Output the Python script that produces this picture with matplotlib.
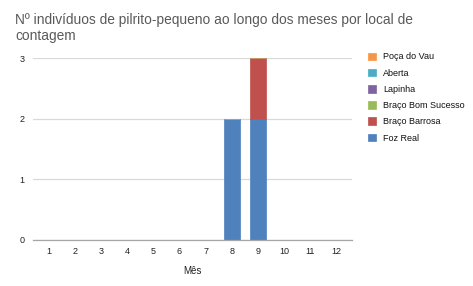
import numpy as np
import matplotlib.pyplot as plt

plt.rcParams['font.family'] = ['Liberation Sans', 'DejaVu Sans']

# Data
months = [1, 2, 3, 4, 5, 6, 7, 8, 9, 10, 11, 12]
foz_real = [0, 0, 0, 0, 0, 0, 0, 2, 2, 0, 0, 0]
braco_barrosa = [0, 0, 0, 0, 0, 0, 0, 0, 1, 0, 0, 0]
braco_bom_sucesso = [0] * 12
lapinha = [0] * 12
aberta = [0] * 12
poca_do_vau = [0] * 12

series = [
    ('Foz Real', foz_real, '#4F81BD'),
    ('Braço Barrosa', braco_barrosa, '#C0504D'),
    ('Braço Bom Sucesso', braco_bom_sucesso, '#9BBB59'),
    ('Lapinha', lapinha, '#8064A2'),
    ('Aberta', aberta, '#4BACC6'),
    ('Poça do Vau', poca_do_vau, '#F79646'),
]

fig = plt.figure(figsize=(4.73, 2.86), dpi=100)
ax = fig.add_axes([0.070, 0.161, 0.674, 0.636])

x = np.array(months)
bottom = np.zeros(len(months))
for name, vals, col in series:
    vals = np.array(vals, dtype=float)
    ax.bar(x, vals, width=0.62, bottom=bottom, color=col, label=name,
           edgecolor=col, linewidth=0.5, zorder=3)
    bottom += vals

ax.set_xlim(0.4, 12.6)
ax.set_ylim(0, 3)
ax.set_yticks([0, 1, 2, 3])
ax.set_xticks(months)
ax.tick_params(axis='both', length=0, labelsize=6.5, colors='#222222')
ax.tick_params(axis='x', pad=5)
ax.tick_params(axis='y', pad=6)
ax.grid(axis='y', color='#D9D9D9', linewidth=0.9, zorder=0)
for s in ['top', 'right', 'left']:
    ax.spines[s].set_visible(False)
ax.spines['bottom'].set_color('#A6A6A6')
ax.spines['bottom'].set_linewidth(0.9)
ax.spines['bottom'].set_zorder(4)

ax.set_xlabel('Mês', fontsize=7, color='#222222', labelpad=7)

fig.text(0.032, 0.955, 'Nº indivíduos de pilrito-pequeno ao longo dos meses por local de\ncontagem',
         fontsize=9.9, color='#595959', va='top', ha='left', linespacing=1.15)

handles, labels = ax.get_legend_handles_labels()
leg = fig.legend(handles[::-1], labels[::-1], loc='upper left',
                 bbox_to_anchor=(0.76, 0.845), frameon=False, fontsize=6.5,
                 handlelength=0.9, handleheight=0.9, handletextpad=0.8,
                 labelspacing=0.8)
for t in leg.get_texts():
    t.set_color('#111111')

fig.savefig('out.png', dpi=100)
